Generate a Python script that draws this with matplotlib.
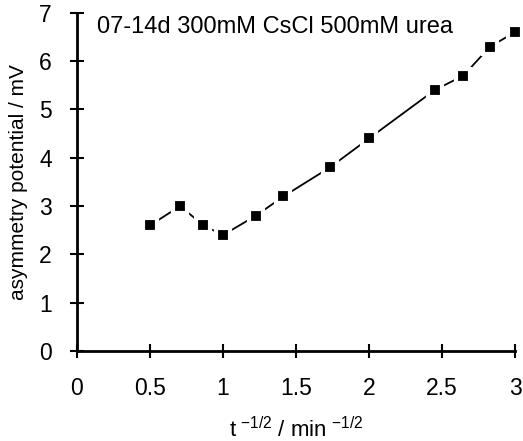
import matplotlib
matplotlib.use('Agg')
import matplotlib.pyplot as plt

plt.rcParams['font.family'] = ['Liberation Sans', 'DejaVu Sans']

# data
x_inv_sqrt_t = [0.5, 0.707, 0.866, 1.0, 1.225, 1.414, 1.732, 2.0, 2.449, 2.646, 2.828, 3.0]
asym_mv = [2.6, 3.0, 2.6, 2.4, 2.8, 3.2, 3.8, 4.4, 5.4, 5.7, 6.3, 6.6]
xticks = [0, 0.5, 1, 1.5, 2, 2.5, 3]
xticklabels = ['0', '0.5', '1', '1.5', '2', '2.5', '3']
yticks = [0, 1, 2, 3, 4, 5, 6, 7]

fig = plt.figure(figsize=(5.23, 4.41), dpi=100)
ax = fig.add_axes([0.147, 0.204, 0.838, 0.767])

ax.plot(x_inv_sqrt_t, asym_mv, color='k', lw=1.3, marker='s', ms=10.2,
        mfc='k', mec='white', mew=3, clip_on=False, zorder=3)

ax.set_xlim(0, 3)
ax.set_ylim(0, 7)
ax.set_xticks(xticks)
ax.set_xticklabels(xticklabels)
ax.set_yticks(yticks)

for s in ['top', 'right']:
    ax.spines[s].set_visible(False)
for s in ['left', 'bottom']:
    ax.spines[s].set_linewidth(2)

ax.tick_params(axis='both', direction='inout', length=10, width=1.5, labelsize=16.5)
ax.tick_params(axis='x', pad=14)
ax.tick_params(axis='y', pad=13)

ax.set_xlabel('t$^{\\ \\mathregular{-1/2}}$ / min$^{\\ \\mathregular{-1/2}}$', fontsize=16, labelpad=12)
ax.set_ylabel('asymmetry potential / mV', fontsize=15, labelpad=8)

ax.text(0.137, 6.7, '07-14d 300mM CsCl 500mM urea', fontsize=17, va='center', ha='left')

fig.savefig('out.png', dpi=100)
